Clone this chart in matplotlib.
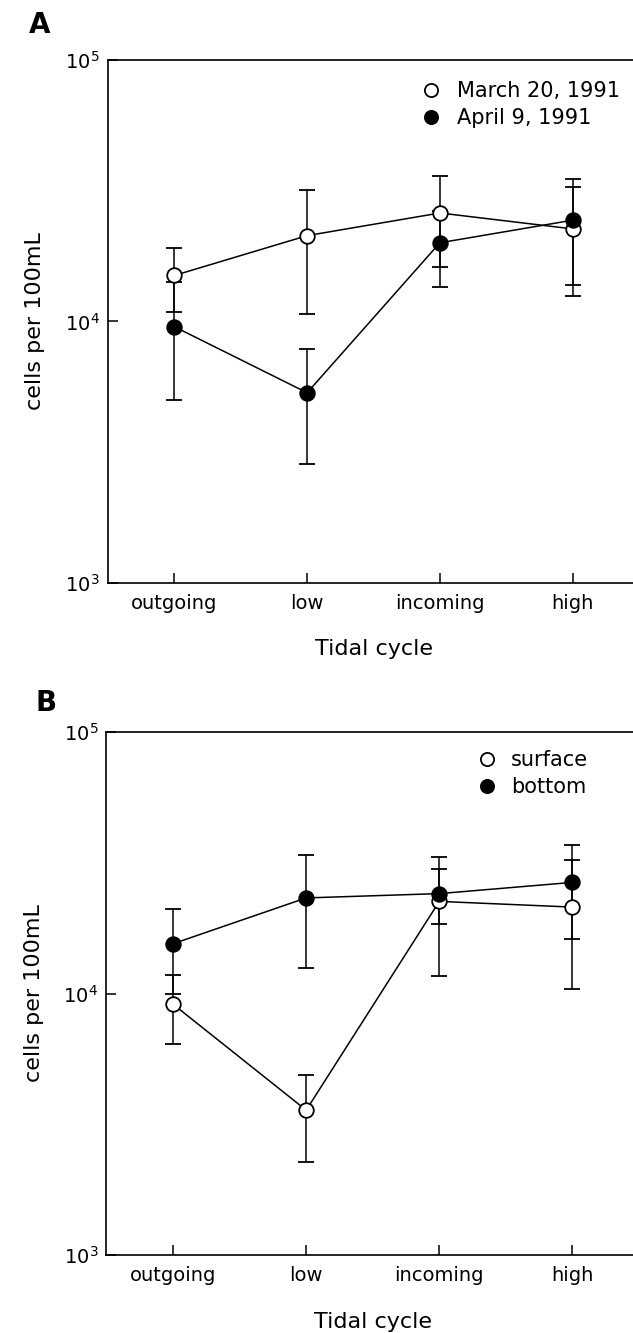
import numpy as np
import matplotlib.pyplot as plt
from matplotlib.lines import Line2D

# tidal stages
stages = ['outgoing', 'low', 'incoming', 'high']

# Panel A: two sampling dates (cells per 100 mL, mean and SD)
march_mean = [15000, 21300, 26000, 22600]
march_err = [4150, 10650, 9900, 10100]
april_mean = [9550, 5340, 20000, 24400]
april_err = [4550, 2500, 6400, 10600]

# Panel B: surface vs bottom
surface_mean = [9100, 3580, 22500, 21400]
surface_err = [2700, 1320, 10800, 11000]
bottom_mean = [15500, 23200, 24100, 26600]
bottom_err = [5500, 10700, 5700, 10500]

ytick_vals = [1e3, 1e4, 1e5]
ytick_labels = ['$10^3$', '$10^4$', '$10^5$']

plt.rcParams['font.family'] = ['DejaVu Sans']

W, H = 633, 1333
fig = plt.figure(figsize=(W / 100, H / 100), dpi=100)


def px_axes(left, top, right, bottom):
    return fig.add_axes([left / W, 1 - bottom / H, (right - left) / W, (bottom - top) / H])


def style(ax):
    x = np.arange(len(stages))
    ax.set_yscale('log')
    ax.set_ylim(1e3, 1e5)
    ax.set_xlim(-0.5, len(stages) - 0.5)
    ax.set_yticks(ytick_vals)
    ax.set_yticklabels(ytick_labels)
    ax.yaxis.set_minor_locator(plt.NullLocator())
    ax.set_xticks(x)
    ax.set_xticklabels(stages)
    ax.tick_params(direction='in', length=7, width=1.1, labelsize=14)
    ax.tick_params(axis='x', pad=8)
    ax.tick_params(axis='y', pad=6)
    for s in ax.spines.values():
        s.set_linewidth(1.2)
    ax.set_ylabel('cells per 100mL', fontsize=16, labelpad=14)
    ax.set_xlabel('Tidal cycle', fontsize=16, labelpad=19)


def draw_series(ax, mean, err, filled, label):
    x = np.arange(len(stages))
    ax.errorbar(x, mean, yerr=err, color='black', lw=1.1, elinewidth=1.1,
                capsize=6, capthick=1.1, marker='o', ms=10.5,
                mfc='black' if filled else 'white', mec='black', mew=1.3,
                label=label)


def add_legend(ax, labels, anchor, textpad):
    handles = [Line2D([], [], ls='None', marker='o', ms=9.5, mfc='white', mec='black', mew=1.3),
               Line2D([], [], ls='None', marker='o', ms=9.5, mfc='black', mec='black', mew=1.3)]
    ax.legend(handles, labels, loc='upper left', bbox_to_anchor=anchor, frameon=False,
              fontsize=15, handlelength=0.8, handletextpad=textpad, labelspacing=0.36,
              borderpad=0, borderaxespad=0)


# Panel A
axA = px_axes(108, 60, 639, 583)
draw_series(axA, march_mean, march_err, False, 'March 20, 1991')
draw_series(axA, april_mean, april_err, True, 'April 9, 1991')
style(axA)
add_legend(axA, ['March 20, 1991', 'April 9, 1991'], (0.593, 0.960), 0.85)
fig.text(29 / W, 1 - 33 / H, 'A', fontsize=20, fontweight='bold', va='baseline')

# Panel B
axB = px_axes(106.5, 732, 639, 1255)
draw_series(axB, surface_mean, surface_err, False, 'surface')
draw_series(axB, bottom_mean, bottom_err, True, 'bottom')
style(axB)
add_legend(axB, ['surface', 'bottom'], (0.6995, 0.9656), 0.75)
fig.text(35 / W, 1 - 711 / H, 'B', fontsize=20, fontweight='bold', va='baseline')

fig.savefig('out.png', dpi=100)
